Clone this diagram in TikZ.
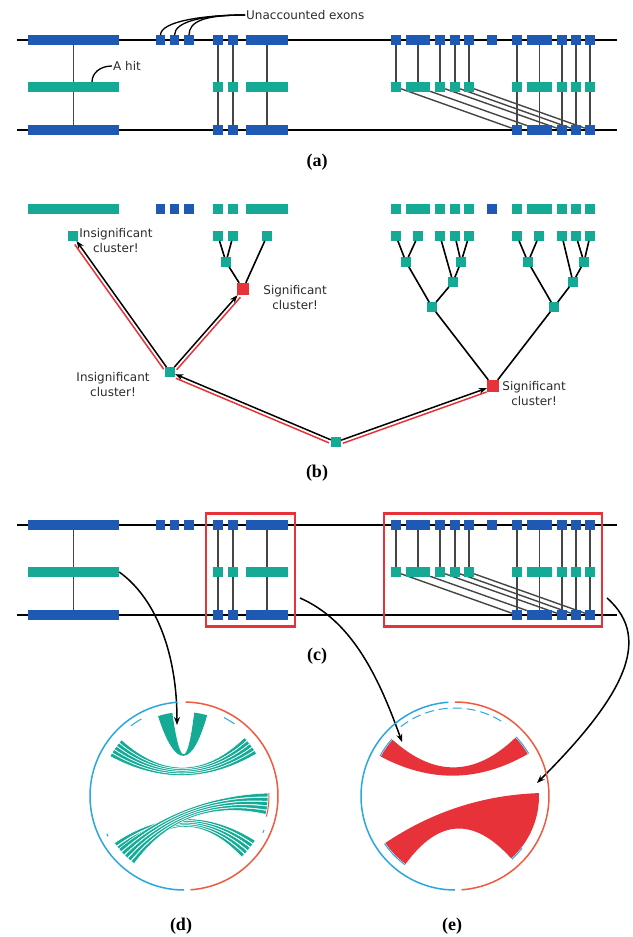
\documentclass[tikz,border=0pt]{standalone}
\usepackage{fontspec}
\setmainfont{DejaVu Sans}
\newfontfamily\panelfont{Liberation Serif}
\usepackage{tikz}
\usetikzlibrary{arrows.meta,positioning,calc,fit,backgrounds}

\definecolor{exblue}{HTML}{1E5AB4}
\definecolor{exteal}{HTML}{14AA96}
\definecolor{clred}{HTML}{E8323A}
\definecolor{ringblue}{HTML}{2AA6E0}
\definecolor{ringred}{HTML}{EE5B3E}
\definecolor{txt}{HTML}{2B2B2B}
\definecolor{conn}{HTML}{454545}

\tikzset{
  exon/.style={rectangle, inner sep=0pt, minimum height=9.5pt},
  bexon/.style={exon, fill=exblue},
  texon/.style={exon, fill=exteal},
  leaf/.style={rectangle, inner sep=0pt, minimum width=10pt, minimum height=9.5pt, fill=exteal},
  sigclu/.style={rectangle, inner sep=0pt, minimum size=12pt, fill=clred},
  chrom/.style={line width=2.6pt, black},
  hitline/.style={line width=1.4pt, conn},
  pointer/.style={line width=1.3pt, black},
  lbl/.style={font=\fontsize{12}{15.5}\selectfont, text=txt, align=center, inner sep=1pt},
  panel/.style={font=\panelfont\bfseries\fontsize{18}{20}\selectfont, inner sep=0pt},
  treeline/.style={line width=1.6pt},
  walk/.style={line width=1.5pt, ->},
  trail/.style={line width=1.5pt, clred, shorten <=6pt, shorten >=8pt},
  redbox/.style={draw=clred, line width=2.2pt, inner sep=6.5pt},
  jump/.style={line width=1.5pt, ->},
  ringb/.style={draw=ringblue, line width=1.5pt},
  ringr/.style={draw=ringred, line width=1.5pt},
  endmark/.style={draw=ringblue, line width=1pt},
  endmarkr/.style={draw=ringred, line width=1pt},
  hitrib/.style={fill=exteal},
  strand/.style={fill=exteal, draw=white, line width=0.5pt},
  redrib/.style={fill=clred},
}

% exon name / centre / width
\def\allexons{E1/73.5/91pt, U1/160.5/9.5pt, U2/174.5/9.5pt, U3/189/9.5pt,
  E2/218/10pt, E3/233/10pt, E4/267/42pt, F1/396/10pt, F2/418/24pt, F3/440/10pt,
  F4/455/10pt, F5/469/10pt, U4/492/10pt, G1/517/10pt, G2/539.5/25pt, G3/562/10pt,
  G4/576/10pt, G5/590/10pt}
\def\hitexons{E1/73.5/91pt, E2/218/10pt, E3/233/10pt, E4/267/42pt, F1/396/10pt,
  F2/418/24pt, F3/440/10pt, F4/455/10pt, F5/469/10pt, G1/517/10pt, G2/539.5/25pt,
  G3/562/10pt, G4/576/10pt, G5/590/10pt}
\def\tgtexons{E1/73.5/91pt, E2/218/10pt, E3/233/10pt, E4/267/42pt, G1/517/10pt,
  G2/539.5/25pt, G3/562/10pt, G4/576/10pt, G5/590/10pt}

% two genomes and the hits between them
\newcommand{\alignrows}{%
  \coordinate (tl) at (17,40);  \coordinate (tr) at (617,40);
  \coordinate (bl) at (17,130); \coordinate (br) at (617,130);
  \foreach \n/\x/\w in \allexons
    \node[bexon, minimum width=\w] (t\n) at (\x,40) {};
  \foreach \n/\x/\w in \hitexons
    \node[texon, minimum width=\w] (m\n) at (\x,87) {};
  \foreach \n/\x/\w in \tgtexons
    \node[bexon, minimum width=\w] (b\n) at (\x,130) {};
  \begin{scope}[on background layer]
    \draw[chrom] (tl) -- (tr);
    \draw[chrom] (bl) -- (br);
    \foreach \n in {E1,E2,E3,E4,G1,G2,G3,G4,G5}
      \draw[hitline] (t\n) -- (b\n);
    \foreach \n in {F1,F2,F3,F4,F5}
      \draw[hitline] (t\n) -- (m\n);
    \foreach \k in {1,...,5}
      \draw[hitline] (mF\k) -- (bG\k);
  \end{scope}
}

% ribbon: style, arc a1..a2, arc b1..b2
\newcommand{\chord}[5][]{%
  \path[#1] (#2:84) arc[start angle=#2, end angle=#3, radius=84]
    .. controls (#3:28) and (#4:28) .. (#4:84)
    arc[start angle=#4, end angle=#5, radius=84]
    .. controls (#5:28) and (#2:28) .. (#2:84) -- cycle;}

\begin{document}
\begin{tikzpicture}[x=1pt, y=-1pt, >={Stealth[length=8pt,width=6pt]}]
\useasboundingbox (0,0) rectangle (632,937);

% (a)
\begin{scope}[name prefix=a-]
  \alignrows
\end{scope}
\node[lbl, anchor=west] (unacc) at (245,15) {Unaccounted exons};
\foreach \n in {U1,U2,U3}
  \draw[pointer] (unacc.west) .. controls +(-40,0) and +(0,-14) .. (a-t\n.north);
\node[lbl, anchor=west] (hitlbl) at (112,66) {A hit};
\coordinate (hitpt) at ([xshift=18.5pt]a-mE1.north);
\draw[pointer] (hitlbl.west) .. controls +(-12,0) and +(0,-9) .. (hitpt);
\node[panel] (pa) at (317,162) {(a)};

% (b)
\foreach \n/\x/\w in \hitexons
  \node[texon, minimum width=\w] (h\n) at (\x,209) {};
\foreach \n/\x in {U1/160.5, U2/174.5, U3/189, U4/492}
  \node[bexon, minimum width=9.5pt] (h\n) at (\x,209) {};
\foreach \n/\x in {E1/73, E2/218, E3/233, E4/267, F1/396, F2/418, F3/440, F4/455,
    F5/469, G1/517, G2/539, G3/562, G4/576, G5/590}
  \node[leaf] (l\n) at (\x,236) {};

\node[leaf] (n23) at (226,262) {};
\node[sigclu] (sig1) at (243,289) {};
\node[leaf] (ins) at (170,372) {};
\node[leaf] (root) at (336,442) {};
\node[sigclu] (sig2) at (493,386) {};
\node[leaf] (f12) at (406,262) {};
\node[leaf] (f45) at (461,262) {};
\node[leaf] (f345) at (453,282) {};
\node[leaf] (fall) at (432,307) {};
\node[leaf] (g12) at (528,262) {};
\node[leaf] (g45) at (584,262) {};
\node[leaf] (g345) at (573,282) {};
\node[leaf] (gall) at (554,307) {};

% merges
\draw[treeline] (lE2) -- (n23);  \draw[treeline] (lE3) -- (n23);
\draw[treeline] (n23) -- (sig1); \draw[treeline] (lE4) -- (sig1);
\draw[treeline] (lF1) -- (f12);  \draw[treeline] (lF2) -- (f12);
\draw[treeline] (lF4) -- (f45);  \draw[treeline] (lF5) -- (f45);
\draw[treeline] (lF3) -- (f345); \draw[treeline] (f45) -- (f345);
\draw[treeline] (f12) -- (fall); \draw[treeline] (f345) -- (fall);
\draw[treeline] (lG1) -- (g12);  \draw[treeline] (lG2) -- (g12);
\draw[treeline] (lG4) -- (g45);  \draw[treeline] (lG5) -- (g45);
\draw[treeline] (lG3) -- (g345); \draw[treeline] (g45) -- (g345);
\draw[treeline] (g12) -- (gall); \draw[treeline] (g345) -- (gall);
\draw[treeline] (fall) -- (sig2); \draw[treeline] (gall) -- (sig2);

% walk from the root
\draw[walk] (root) -- (ins);
\draw[walk] (ins) -- (lE1);
\draw[walk] (ins) -- (sig1);
\draw[walk] (root) -- (sig2);
\draw[trail] ($(root)!3.5pt!90:(ins)$) -- ($(ins)!3.5pt!-90:(root)$);
\draw[trail] ($(ins)!3.5pt!90:(lE1)$) -- ($(lE1)!3.5pt!-90:(ins)$);
\draw[trail] ($(ins)!3.5pt!-90:(sig1)$) -- ($(sig1)!3.5pt!90:(ins)$);
\draw[trail] ($(root)!3.5pt!-90:(sig2)$) -- ($(sig2)!3.5pt!90:(root)$);

\node[lbl, right=0pt of lE1, yshift=-4.5pt] (lab1) {Insignificant\\cluster!};
\node[lbl, right=13pt of sig1, yshift=-8.5pt] (lab2) {Significant\\cluster!};
\node[lbl, left=14pt of ins, yshift=-12.5pt] (lab3) {Insignificant\\cluster!};
\node[lbl, right=2pt of sig2, yshift=-7.5pt] (lab4) {Significant\\cluster!};
\node[panel] (pb) at (317,473) {(b)};

% (c)
\begin{scope}[yshift=-485pt, name prefix=c-]
  \alignrows
\end{scope}
\node[redbox, fit=(c-tE2)(c-bE4)] (box1) {};
\node[redbox, fit=(c-tF1)(c-bG5)] (box2) {};
\node[panel] (pc) at (317,656) {(c)};

\coordinate (dtip) at (177,725);
\coordinate (s2) at (300,598);
\coordinate (etip1) at (402,742);
\coordinate (s3) at (607,598);
\coordinate (etip2) at (537,783);
\draw[jump] (c-mE1.east) .. controls +(35,25) and +(0,-75) .. (dtip);
\draw[jump] (s2) .. controls +(50,22) and +(-25,-70) .. (etip1);
\draw[jump] (s3) .. controls +(48,42) and +(83,-83) .. (etip2);

% (d)
\begin{scope}[shift={(184,796)}, y=1pt]
  \draw[ringb] (94:94) arc[start angle=94, end angle=270, radius=94];
  \draw[ringr] (-86:94) arc[start angle=-86, end angle=89, radius=94];
  \draw[endmark] (119:88) arc[start angle=119, end angle=127, radius=88];
  \draw[endmark] (55:88) arc[start angle=55, end angle=63, radius=88];
  \draw[endmark] (206:86) arc[start angle=206, end angle=208, radius=86];
  \draw[endmark] (335:87) arc[start angle=335, end angle=337, radius=87];
  \chord[hitrib]{98}{108}{74}{83}
  \foreach \k [evaluate=\k as \pa using 138+2.8*\k, evaluate=\k as \pb using 140.6+2.8*\k,
      evaluate=\k as \qa using 41.4-2.8*\k, evaluate=\k as \qb using 44-2.8*\k] in {0,...,4}
    {\chord[strand]{\pa}{\pb}{\qa}{\qb}}
  \foreach \k [evaluate=\k as \pa using 214+3*\k, evaluate=\k as \pb using 216.6+3*\k,
      evaluate=\k as \qa using 325.4-3*\k, evaluate=\k as \qb using 328-3*\k] in {0,...,4}
    {\chord[strand]{\pa}{\pb}{\qa}{\qb}}
  \foreach \k [evaluate=\k as \pa using 219+3*\k, evaluate=\k as \pb using 221.6+3*\k,
      evaluate=\k as \qa using 359.4-3*\k, evaluate=\k as \qb using 362-3*\k] in {0,...,4}
    {\chord[strand]{\pa}{\pb}{\qa}{\qb}}
  \draw[endmarkr] (346:85) arc[start angle=346, end angle=362, radius=85];
\end{scope}
\node[panel] (pd) at (181,926) {(d)};

% (e)
\begin{scope}[shift={(455,796)}, y=1pt]
  \draw[ringb] (94:94) arc[start angle=94, end angle=270, radius=94];
  \draw[ringr] (-86:94) arc[start angle=-86, end angle=90, radius=94];
  \draw[endmark, dash pattern=on 9pt off 5pt] (128:88) arc[start angle=128, end angle=55, radius=88];
  \chord[redrib]{138}{152}{30}{44}
  \chord[redrib]{214}{234}{312}{362}
  \draw[endmark] (138:85) arc[start angle=138, end angle=152, radius=85];
  \draw[endmark] (30:85) arc[start angle=30, end angle=44, radius=85];
  \draw[endmark] (214:85) arc[start angle=214, end angle=234, radius=85];
  \draw[endmark] (312:85) arc[start angle=312, end angle=322, radius=85];
\end{scope}
\node[panel] (pe) at (452,926) {(e)};

\end{tikzpicture}
\end{document}
